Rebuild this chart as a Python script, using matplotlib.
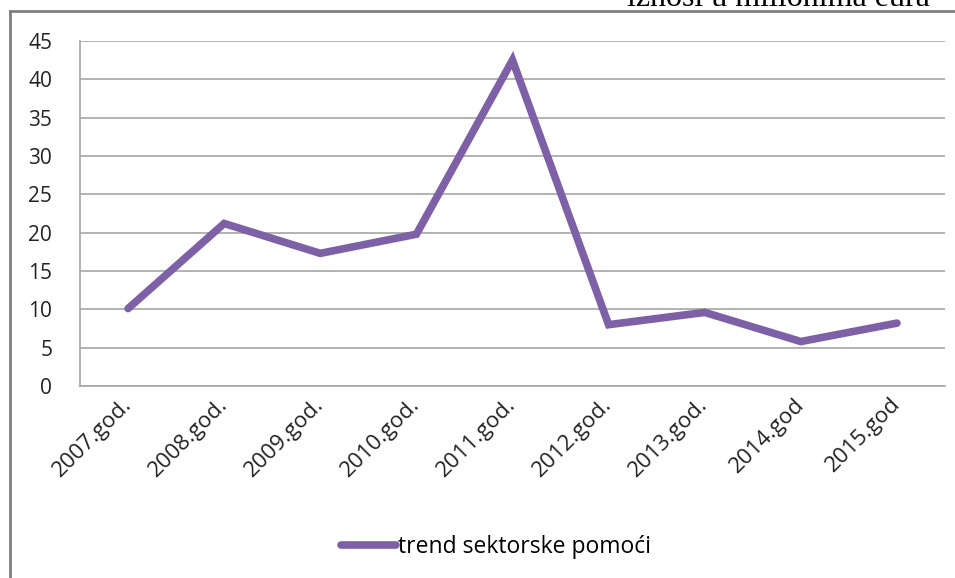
import matplotlib
matplotlib.use("Agg")
import matplotlib.pyplot as plt
from matplotlib.lines import Line2D

# data (iznosi u milionima eura)
years = ["2007.god.", "2008.god.", "2009.god.", "2010.god.", "2011.god.",
         "2012.god.", "2013.god.", "2014.god", "2015.god"]
values = [10.1, 21.2, 17.3, 19.8, 42.5, 8.0, 9.6, 5.8, 8.2]
yticks = [0, 5, 10, 15, 20, 25, 30, 35, 40, 45]

W, H = 955, 578
purple = "#7E60A6"
grid_col = "#A6A6A6"
font = ["Open Sans", "DejaVu Sans"]

fig = plt.figure(figsize=(W / 100, H / 100), dpi=100)
ax = fig.add_axes([80 / W, 1 - 386 / H, 865 / W, 345 / H])

x = range(len(years))
line, = ax.plot(x, values, color=purple, lw=5.5, solid_joinstyle="miter",
                solid_capstyle="round", label="trend sektorske pomoći")

ax.set_xlim(-0.5, len(years) - 0.5)
ax.set_ylim(0, 45)
ax.set_yticks(yticks)
ax.set_yticklabels([str(v) for v in yticks], family=font, fontsize=15, color="#222222")
ax.set_xticks(list(x))
ax.set_xticklabels(years, family=font, fontsize=16, color="#222222",
                   rotation=45, ha="right", va="center", rotation_mode="anchor")
ax.tick_params(axis="both", length=0)
ax.tick_params(axis="y", pad=20)
ax.tick_params(axis="x", pad=11)
ax.grid(axis="y", color=grid_col, lw=1.2)
ax.set_axisbelow(True)
for s in ("top", "right"):
    ax.spines[s].set_visible(False)
for s in ("left", "bottom"):
    ax.spines[s].set_color(grid_col)
    ax.spines[s].set_linewidth(1.2)

leg = fig.legend(handles=[line], loc="center", bbox_to_anchor=(496 / W, 1 - 547 / H),
                 frameon=False, handlelength=2.4, handletextpad=0.12,
                 prop={"family": font, "size": 16.5})
leg.get_lines()[0].set_solid_capstyle("round")

# chart frame (left + top edges visible in the crop)
fig.add_artist(Line2D([10 / W, 10 / W], [0, 1 - 11 / H], transform=fig.transFigure,
                      color="#7F7F7F", lw=2))
fig.add_artist(Line2D([10 / W, 1], [1 - 11 / H, 1 - 11 / H], transform=fig.transFigure,
                      color="#7F7F7F", lw=2))

# unit note, cut off at the top edge like in the source
fig.text(930 / W, 1 - 6 / H, "iznosi u milionima eura", family="Liberation Serif",
         fontsize=23, ha="right", va="baseline", color="black")

fig.savefig("out.png", dpi=100, facecolor="white")
